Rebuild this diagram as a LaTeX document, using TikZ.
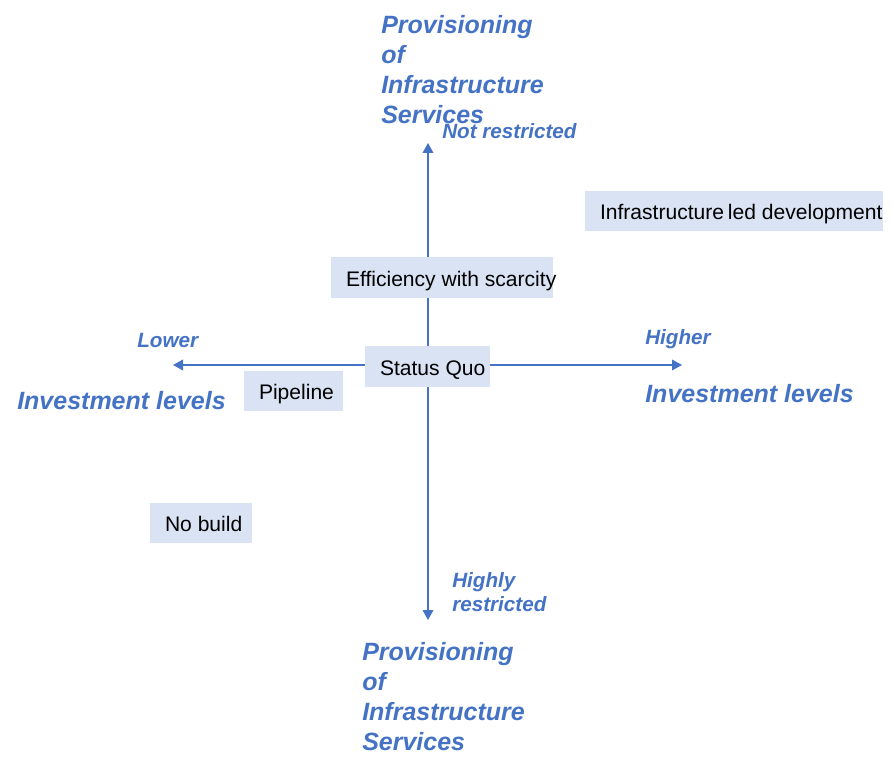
\documentclass[tikz,border=0pt]{standalone}
\usepackage{fontspec}
\setmainfont{Liberation Sans}
\usetikzlibrary{arrows.meta}
\definecolor{ablue}{HTML}{4472C4}
\definecolor{boxfill}{HTML}{DAE3F3}
\newcommand{\boxtext}[2]{\makebox[#1][l]{\hspace*{11.25pt}#2}}
\begin{document}
\begin{tikzpicture}[x=0.75pt,y=-0.75pt,
  box/.style={fill=boxfill, inner sep=0pt, minimum height=30pt,
    text height=12.75pt, text depth=0pt,
    font=\fontsize{15.8}{19}\selectfont, text=black},
  big/.style={text=ablue, font=\fontsize{18.75}{22.5}\selectfont\bfseries\itshape,
    inner sep=0pt, align=left},
  small/.style={text=ablue, font=\fontsize{15.5}{18}\selectfont\bfseries\itshape,
    inner sep=0pt, align=left},
  axis/.style={draw=ablue, line width=1pt,
    {Triangle[length=7.5pt,width=8pt]}-{Triangle[length=7.5pt,width=8pt]}}]
\useasboundingbox (0,0) rectangle (895,770);
% axes
\coordinate (top) at (428,143);
\coordinate (bot) at (428,620);
\coordinate (left) at (173,365);
\coordinate (right) at (682,365);
\draw[axis] (top) -- (bot);
\draw[axis] (left) -- (right);
% boxes
\node[box, minimum height=30.75pt] (sq) at (427.5,366.5) {\boxtext{93.75pt}{Status Quo}};
\node[box, minimum height=30.75pt] (eff) at (442,277.5) {\boxtext{166.5pt}{Efficiency with scarcity}};
\node[box] (pipe) at (293.5,391) {\boxtext{74.25pt}{Pipeline}};
\node[box] (infra) at (734,211) {\boxtext{223.5pt}{Infrastructure\hspace{-1.5pt} led development}};
\node[box] (nob) at (201,523) {\boxtext{76.5pt}{No build}};
% labels
\node[big, anchor=north west] (ptop) at (381,15) {Provisioning\\of\\Infrastructure\\Services};
\node[big, anchor=north west] (pbot) at (362,642) {Provisioning\\of\\Infrastructure\\Services};
\node[big, anchor=base west] (invl) at (17,409) {Investment levels};
\node[big, anchor=base west] (invr) at (645,402) {Investment levels};
\node[small, anchor=base west] (lower) at (137,347) {Lower};
\node[small, anchor=base west] (higher) at (645,344) {Higher};
\node[small, anchor=base west] (notr) at (442,139) {Not restricted};
\node[small, anchor=north west] (highr) at (452,572) {Highly\\restricted};
\end{tikzpicture}
\end{document}
